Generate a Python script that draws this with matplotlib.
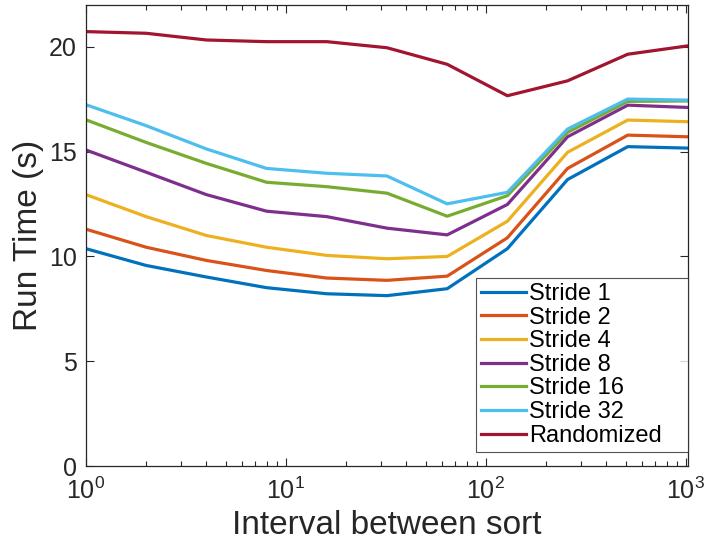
import matplotlib
matplotlib.use("Agg")
import matplotlib.pyplot as plt

plt.rcParams["font.family"] = ["Liberation Sans", "DejaVu Sans"]
plt.rcParams["mathtext.fontset"] = "custom"
plt.rcParams["mathtext.rm"] = "Liberation Sans"
plt.rcParams["mathtext.it"] = "Liberation Sans:italic"
plt.rcParams["mathtext.bf"] = "Liberation Sans:bold"

intervals = [1, 2, 4, 8, 16, 32, 64, 128, 256, 512, 1024]

stride1 = [10.37, 9.57, 9.02, 8.51, 8.22, 8.13, 8.46, 10.37, 13.67, 15.24, 15.17]
stride2 = [11.30, 10.44, 9.81, 9.33, 8.97, 8.86, 9.06, 10.89, 14.20, 15.79, 15.71]
stride4 = [12.95, 11.90, 11.00, 10.44, 10.05, 9.89, 10.00, 11.68, 14.97, 16.51, 16.43]
stride8 = [15.08, 14.02, 12.95, 12.16, 11.90, 11.35, 11.03, 12.48, 15.71, 17.22, 17.11]
stride16 = [16.52, 15.44, 14.44, 13.54, 13.33, 13.02, 11.92, 12.90, 15.92, 17.40, 17.42]
stride32 = [17.24, 16.24, 15.13, 14.20, 13.97, 13.84, 12.51, 13.06, 16.08, 17.51, 17.46]
randomized = [20.73, 20.65, 20.33, 20.25, 20.25, 19.96, 19.17, 17.67, 18.38, 19.65, 20.05]

series = [stride1, stride2, stride4, stride8, stride16, stride32, randomized]
labels = ["Stride 1", "Stride 2", "Stride 4", "Stride 8", "Stride 16", "Stride 32", "Randomized"]
colors = [
    (0.000, 0.447, 0.741),
    (0.850, 0.325, 0.098),
    (0.929, 0.694, 0.125),
    (0.494, 0.184, 0.556),
    (0.466, 0.674, 0.188),
    (0.301, 0.745, 0.933),
    (0.635, 0.078, 0.184),
]

fig = plt.figure(figsize=(7.09, 5.42), dpi=100)
ax = fig.add_axes([0.1213, 0.1402, 0.849, 0.8506])

for ys, lab, c in zip(series, labels, colors):
    ax.plot(intervals, ys, color=c, lw=2.3, label=lab)

ax.set_xscale("log")
ax.set_xlim(1, 1024)
ax.set_ylim(0, 22)
ax.set_yticks([0, 5, 10, 15, 20])

ax.tick_params(which="both", direction="in", top=True, right=True, labelsize=18, colors="#262626")
ax.tick_params(which="major", length=6, width=0.8)
ax.tick_params(which="minor", length=3.5, width=0.8)
ax.tick_params(axis="x", which="major", pad=8.5)
ax.tick_params(axis="y", which="major", pad=6.5)
for sp in ax.spines.values():
    sp.set_color("#262626")
    sp.set_linewidth(0.9)

ax.set_xlabel("Interval between sort", fontsize=24, color="#262626", labelpad=4)
ax.set_ylabel("Run Time (s)", fontsize=24, color="#262626", labelpad=4)

# legend box stretched to the width it has in the original figure
leg = ax.legend(loc="lower left", bbox_to_anchor=(0.648, 0.0304, 0.352, 0.38),
                mode="expand", fontsize=17,
                frameon=True, fancybox=False, edgecolor="#262626",
                handlelength=1.9, handletextpad=0.12, labelspacing=0.07,
                borderpad=0.22, borderaxespad=0.0)
leg.get_frame().set_linewidth(0.8)

fig.savefig("out.png", dpi=100)
